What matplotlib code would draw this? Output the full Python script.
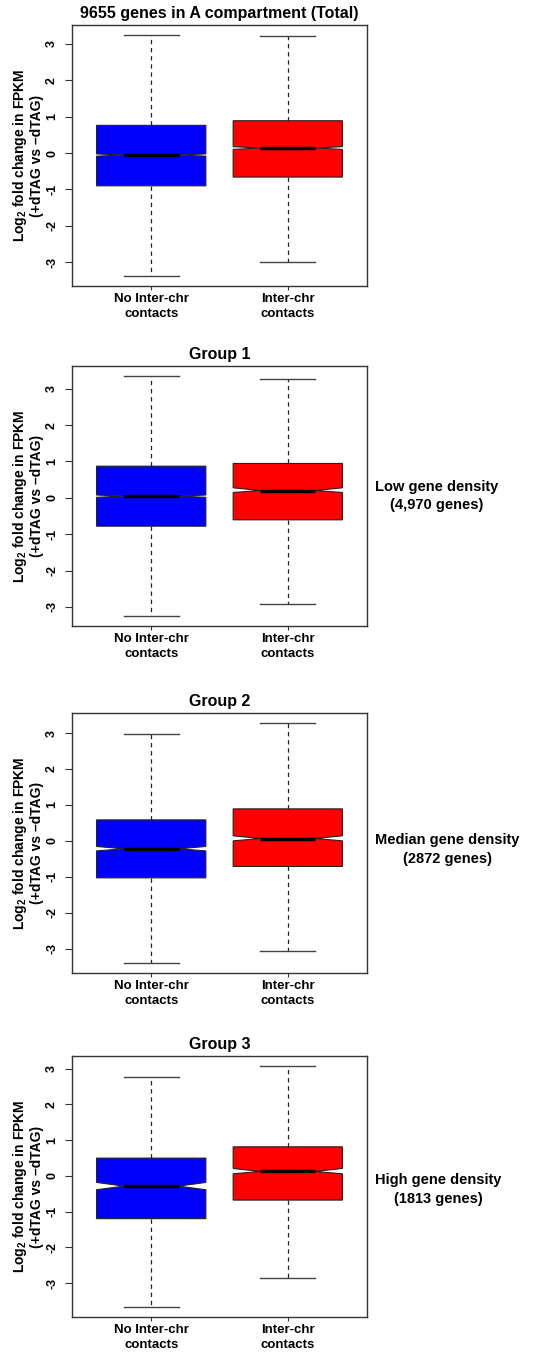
import matplotlib
matplotlib.use("Agg")
import matplotlib.pyplot as plt

plt.rcParams["font.family"] = ["Liberation Sans", "DejaVu Sans"]
plt.rcParams["font.weight"] = "bold"
plt.rcParams["axes.unicode_minus"] = False
plt.rcParams["mathtext.fontset"] = "custom"
plt.rcParams["mathtext.rm"] = "Liberation Sans:bold"
plt.rcParams["mathtext.bf"] = "Liberation Sans:bold"

# data (per panel: [no inter-chr, inter-chr])
titles = ["9655 genes in A compartment (Total)", "Group 1", "Group 2", "Group 3"]
side_text = [None, "Low gene density\n(4,970 genes)",
             "Median gene density\n(2872 genes)", "High gene density\n(1813 genes)"]
categories = ["No Inter-chr\ncontacts", "Inter-chr\ncontacts"]
colors = ["#0000FF", "#FF0000"]

medians = [[-0.055, 0.137], [0.046, 0.20], [-0.22, 0.065], [-0.29, 0.12]]
q1 = [[-0.90, -0.66], [-0.78, -0.605], [-1.03, -0.713], [-1.20, -0.68]]
q3 = [[0.76, 0.887], [0.87, 0.945], [0.583, 0.89], [0.494, 0.81]]
whis_lo = [[-3.385, -2.99], [-3.26, -2.93], [-3.41, -3.07], [-3.68, -2.86]]
whis_hi = [[3.25, 3.22], [3.36, 3.27], [2.98, 3.29], [2.77, 3.08]]
notch_lo = [[-0.085, 0.10], [0.015, 0.147], [-0.28, 0.0], [-0.39, 0.056]]
notch_hi = [[-0.025, 0.175], [0.077, 0.275], [-0.157, 0.14], [-0.186, 0.205]]

W, H = 549, 1353
fig = plt.figure(figsize=(W / 100, H / 100), dpi=100)

# axes boxes in pixels: (top, bottom)
rows = [(25, 286), (366, 626), (713, 973), (1056, 1317)]
side_y = [0.5, 0.5, 0.475, 0.49]
left_px, right_px = 72, 367

for i, (top, bot) in enumerate(rows):
    ax = fig.add_axes([left_px / W, 1 - bot / H, (right_px - left_px) / W, (bot - top) / H])
    stats = []
    for j in range(2):
        stats.append(dict(med=medians[i][j], q1=q1[i][j], q3=q3[i][j],
                          whislo=whis_lo[i][j], whishi=whis_hi[i][j],
                          cilo=notch_lo[i][j], cihi=notch_hi[i][j], fliers=[]))
    bp = ax.bxp(stats, positions=[1, 2], widths=0.8, shownotches=True,
                patch_artist=True, showfliers=False,
                boxprops=dict(edgecolor="#222222", linewidth=0.8),
                medianprops=dict(color="black", linewidth=2.5),
                whiskerprops=dict(color="#222222", linewidth=0.9, linestyle=(0, (3.5, 3))),
                capprops=dict(color="#444444", linewidth=1.0))
    for patch, c in zip(bp["boxes"], colors):
        patch.set_facecolor(c)

    lo = min(whis_lo[i])
    hi = max(whis_hi[i])
    ext = 0.04 * (hi - lo)
    ax.set_ylim(lo - ext, hi + ext)
    ax.set_xlim(0.42, 2.58)
    ax.set_yticks([-3, -2, -1, 0, 1, 2, 3])
    ax.set_yticklabels(["-3", "-2", "-1", "0", "1", "2", "3"], rotation=90, va="center",
                       fontsize=9, fontweight="bold")
    ax.set_xticks([1, 2])
    ax.set_xticklabels(categories, fontsize=9.5, fontweight="bold", linespacing=1.35)
    ax.tick_params(axis="y", length=5, width=0.8, pad=5, color="#333333")
    ax.tick_params(axis="x", length=3, width=0.8, pad=2, color="#333333")
    for s in ax.spines.values():
        s.set_color("#333333")
        s.set_linewidth(1.0)
    ax.set_title(titles[i], fontsize=11.5, fontweight="bold", pad=5)
    ax.set_ylabel("Log$_\\mathrm{2}$ fold change in FPKM\n(+dTAG vs \u2013dTAG)",
                  fontsize=10, fontweight="bold", linespacing=1.05)
    ax.yaxis.set_label_coords(-0.095, 0.5)
    if side_text[i]:
        ax.text(1.027, side_y[i], side_text[i], transform=ax.transAxes, ha="left", va="center",
                multialignment="center", fontsize=10.5, fontweight="bold", linespacing=1.45)

fig.savefig("out.png", dpi=100)
